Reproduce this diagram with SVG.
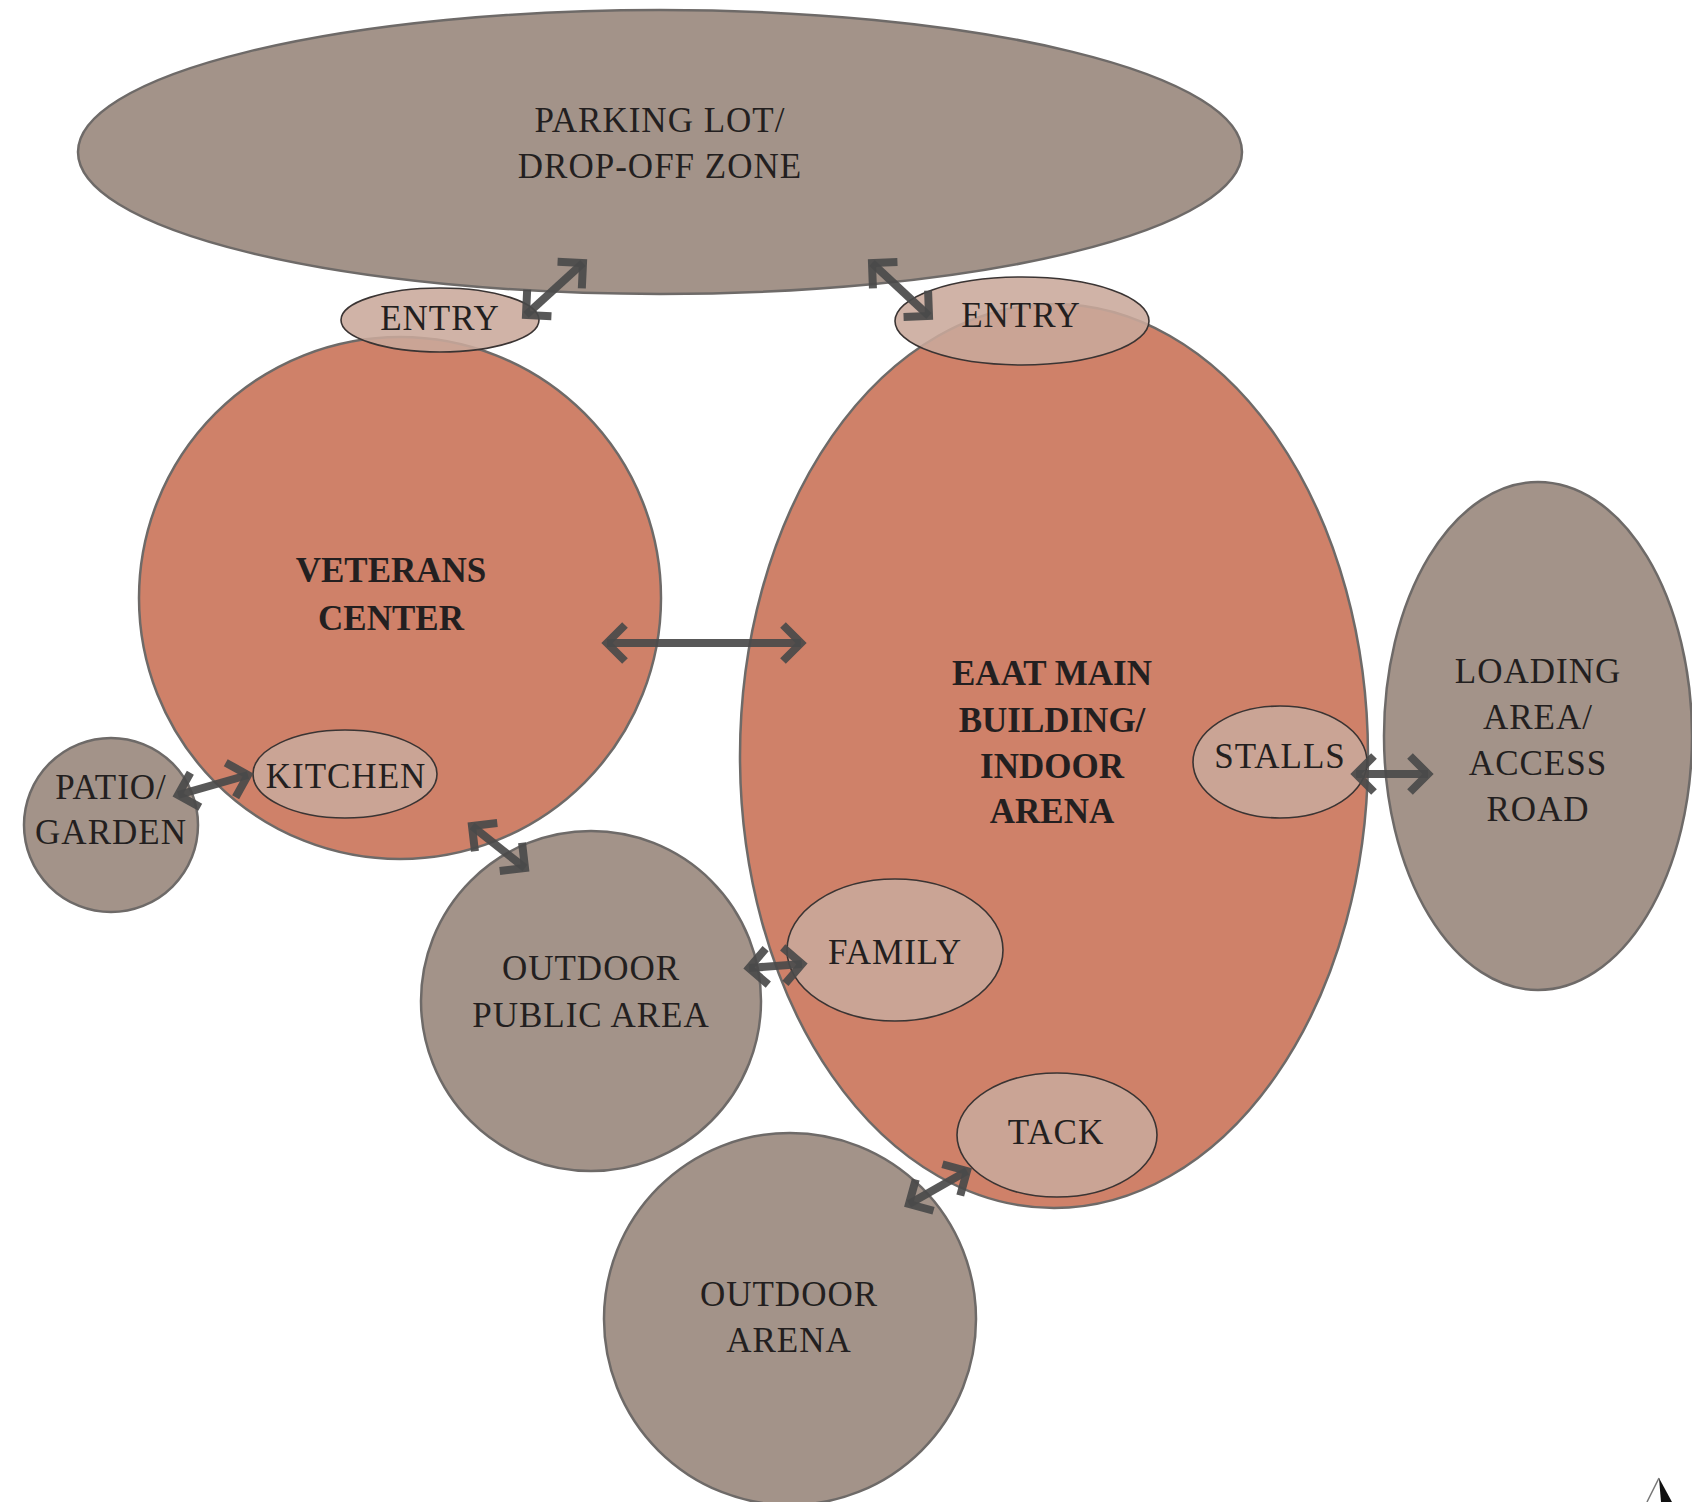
<svg xmlns="http://www.w3.org/2000/svg" width="1692" height="1502" viewBox="0 0 1692 1502">
<defs>
<style>
.bg{fill:#ffffff}
.gray{fill:#a39389;stroke:#6e6a68;stroke-width:2.5}
.orange{fill:#cf8169;stroke:#6e6a68;stroke-width:2.5}
.sub{fill:#c9a89b;fill-opacity:0.88;stroke:#3a3433;stroke-width:1.6}
.t{font-family:"Liberation Serif","Times New Roman",serif;font-size:35px;fill:#231f20;text-anchor:middle;letter-spacing:1px}
.b{font-family:"Liberation Serif","Times New Roman",serif;font-size:35px;font-weight:bold;fill:#231f20;text-anchor:middle}
.arr{fill:none;stroke:#4a4a4a;stroke-opacity:0.92;stroke-width:8;marker-start:url(#chev);marker-end:url(#chev)}
</style>
<marker id="chev" markerUnits="userSpaceOnUse" viewBox="-30 -30 40 60" refX="0" refY="0" markerWidth="40" markerHeight="60" orient="auto-start-reverse">
<path d="M -18 -18 L 0 0 L -18 18" fill="none" stroke="#4a4a4a" stroke-opacity="0.92" stroke-width="8" stroke-linejoin="miter"/>
</marker>
</defs>
<rect class="bg" x="0" y="0" width="1692" height="1502"/>

<g id="parking">
<ellipse class="gray" cx="660" cy="152" rx="582" ry="142"/>
<text class="t" x="660" y="132">PARKING LOT/</text>
<text class="t" x="660" y="178">DROP-OFF ZONE</text>
</g>

<g id="loading">
<ellipse class="gray" cx="1538" cy="736" rx="154" ry="254"/>
<text class="t" x="1538" y="683">LOADING</text>
<text class="t" x="1538" y="729">AREA/</text>
<text class="t" x="1538" y="775">ACCESS</text>
<text class="t" x="1538" y="821">ROAD</text>
</g>

<g id="patio">
<circle class="gray" cx="111" cy="825" r="87"/>
<text class="t" x="111" y="799">PATIO/</text>
<text class="t" x="111" y="844">GARDEN</text>
</g>

<g id="outdoor-public">
<circle class="gray" cx="591" cy="1001" r="170"/>
<text class="t" x="591" y="980">OUTDOOR</text>
<text class="t" x="591" y="1027">PUBLIC AREA</text>
</g>

<g id="outdoor-arena">
<circle class="gray" cx="790" cy="1319" r="186"/>
<text class="t" x="789" y="1306">OUTDOOR</text>
<text class="t" x="789" y="1352">ARENA</text>
</g>

<g id="veterans">
<circle class="orange" cx="400" cy="598" r="261"/>
<text class="b" x="391" y="582">VETERANS</text>
<text class="b" x="391" y="630">CENTER</text>
</g>

<g id="eaat">
<ellipse class="orange" cx="1054" cy="756" rx="314" ry="452"/>
<text class="b" x="1052" y="685">EAAT MAIN</text>
<text class="b" x="1052" y="732">BUILDING/</text>
<text class="b" x="1052" y="778">INDOOR</text>
<text class="b" x="1052" y="823">ARENA</text>
</g>

<g id="entry-left">
<ellipse class="sub" cx="440" cy="320" rx="99" ry="32"/>
<text class="t" x="440" y="330">ENTRY</text>
</g>

<g id="entry-right">
<ellipse class="sub" cx="1022" cy="321" rx="127" ry="44"/>
<text class="t" x="1021" y="327">ENTRY</text>
</g>

<g id="kitchen">
<ellipse class="sub" cx="345" cy="774" rx="92" ry="44"/>
<text class="t" x="346" y="788">KITCHEN</text>
</g>

<g id="stalls">
<ellipse class="sub" cx="1280" cy="762" rx="87" ry="56"/>
<text class="t" x="1280" y="768">STALLS</text>
</g>

<g id="family">
<ellipse class="sub" cx="895" cy="950" rx="108" ry="71"/>
<text class="t" x="895" y="964">FAMILY</text>
</g>

<g id="tack">
<ellipse class="sub" cx="1057" cy="1135" rx="100" ry="62"/>
<text class="t" x="1056" y="1144">TACK</text>
</g>

<g id="connectors">
<path class="arr" d="M 526 315 L 583 263"/>
<path class="arr" d="M 872 263 L 929 316"/>
<path class="arr" d="M 607 643 L 801 643"/>
<path class="arr" d="M 178 795 L 248 775"/>
<path class="arr" d="M 472 826 L 525 868"/>
<path class="arr" d="M 749 968 L 802 964"/>
<path class="arr" d="M 1356 774 L 1428 774"/>
<path class="arr" d="M 909 1204 L 967 1171"/>
</g>

<g id="north-arrow">
<polygon points="1659,1478 1672,1502 1661,1502" fill="#111111"/>
<line x1="1659" y1="1478" x2="1647" y2="1502" stroke="#777777" stroke-width="1.5"/>
</g>
</svg>
